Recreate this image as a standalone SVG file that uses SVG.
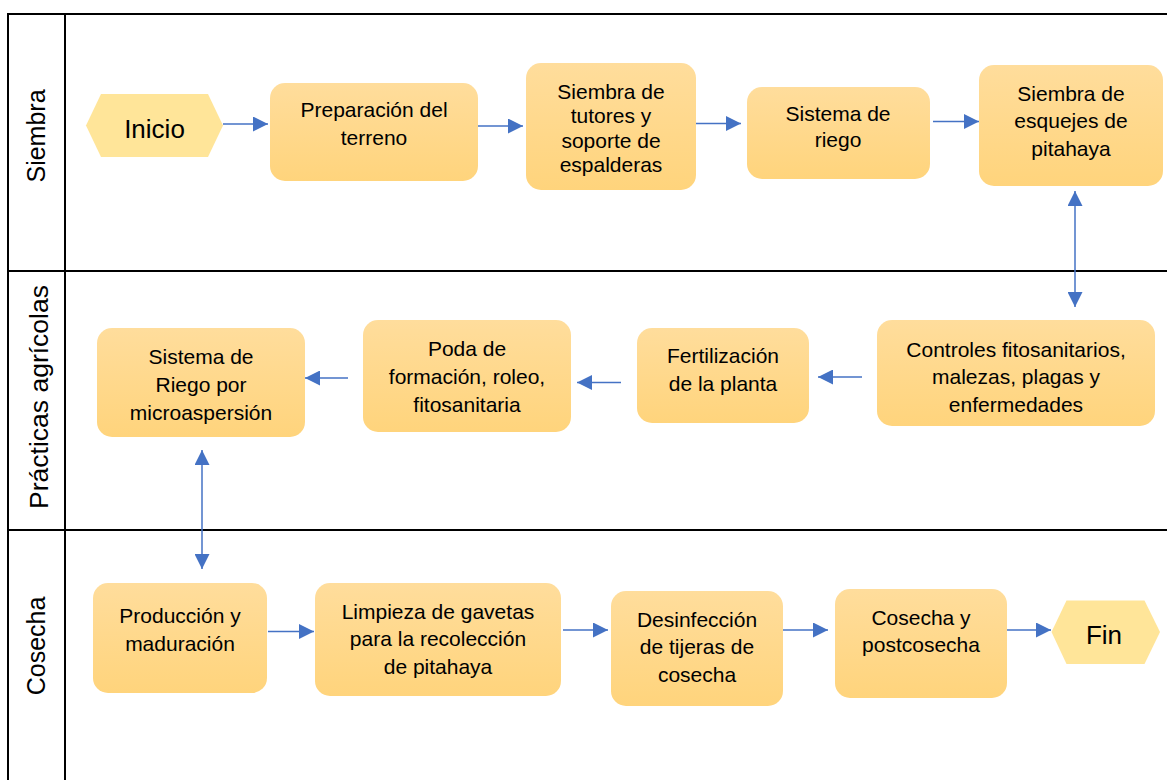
<svg xmlns="http://www.w3.org/2000/svg" width="1167" height="780" viewBox="0 0 1167 780">
<defs>
<linearGradient id="g" x1="0" y1="0" x2="0" y2="1">
<stop offset="0" stop-color="#FFDD9C"/>
<stop offset="1" stop-color="#FFD47C"/>
</linearGradient>
<marker id="ah" markerWidth="15" markerHeight="15" refX="15" refY="7.5" orient="auto-start-reverse" markerUnits="userSpaceOnUse">
<path d="M0,0 L15,7.5 L0,15 z" fill="#4472C4"/>
</marker>
</defs>
<style>
.box{fill:url(#g);stroke:none}
.hex{fill:#FFE599;stroke:none}
.t{font-family:"Liberation Sans",Arial,sans-serif;font-size:21px;fill:#000;text-anchor:middle}
.big{font-family:"Liberation Sans",Arial,sans-serif;font-size:26px;fill:#000;text-anchor:middle}
.lane{font-family:"Liberation Sans",Arial,sans-serif;font-size:25px;fill:#000;text-anchor:middle}
.grid{stroke:#000;stroke-width:2;fill:none}
.c{stroke:#4472C4;stroke-width:1.5;fill:none;marker-end:url(#ah)}
.d{stroke:#4472C4;stroke-width:1.5;fill:none;marker-end:url(#ah);marker-start:url(#ah)}
</style>
<rect width="1167" height="780" fill="#fff"/>
<g id="lanes">
<line class="grid" x1="8" y1="14" x2="1167" y2="14"/>
<line class="grid" x1="8" y1="13" x2="8" y2="780"/>
<line class="grid" x1="65" y1="13" x2="65" y2="780"/>
<line class="grid" x1="8" y1="271" x2="1167" y2="271"/>
<line class="grid" x1="8" y1="530" x2="1167" y2="530"/>
<text class="lane" transform="translate(45,136) rotate(-90)">Siembra</text>
<text class="lane" style="font-size:26.5px" transform="translate(48,397) rotate(-90)">Prácticas agrícolas</text>
<text class="lane" transform="translate(45,646) rotate(-90)">Cosecha</text>
</g>
<g id="connectors">
<line class="c" x1="223" y1="124" x2="268" y2="124"/>
<line class="c" x1="478" y1="126" x2="523" y2="126"/>
<line class="c" x1="696" y1="123.5" x2="741" y2="123.5"/>
<line class="c" x1="933" y1="121.5" x2="979" y2="121.5"/>
<line class="d" x1="1075" y1="191" x2="1075" y2="307"/>
<line class="c" x1="862" y1="377" x2="818" y2="377"/>
<line class="c" x1="621" y1="382.5" x2="577" y2="382.5"/>
<line class="c" x1="348" y1="378" x2="305" y2="378"/>
<line class="d" x1="202" y1="450" x2="202" y2="569"/>
<line class="c" x1="268" y1="631.5" x2="314" y2="631.5"/>
<line class="c" x1="563" y1="630" x2="608" y2="630"/>
<line class="c" x1="783" y1="630" x2="828" y2="630"/>
<line class="c" x1="1007" y1="630" x2="1051" y2="630"/>
</g>
<g id="inicio">
<polygon class="hex" points="86,125.5 101,94 208,94 223,125.5 208,157 101,157"/>
<text class="big" x="154.5" y="137.5">Inicio</text>
</g>
<g id="preparacion">
<rect class="box" x="270" y="83" width="208" height="98" rx="15"/>
<text class="t" x="374" y="117">Preparación del</text>
<text class="t" x="374" y="145">terreno</text>
</g>
<g id="tutores">
<rect class="box" x="526" y="63" width="170" height="127" rx="15"/>
<text class="t" x="611" y="99">Siembra de</text>
<text class="t" x="611" y="123">tutores y</text>
<text class="t" x="611" y="148">soporte de</text>
<text class="t" x="611" y="172">espalderas</text>
</g>
<g id="riego">
<rect class="box" x="747" y="87" width="183" height="92" rx="15"/>
<text class="t" x="838" y="121">Sistema de</text>
<text class="t" x="838" y="147">riego</text>
</g>
<g id="esquejes">
<rect class="box" x="979" y="65" width="184" height="121" rx="15"/>
<text class="t" x="1071" y="101">Siembra de</text>
<text class="t" x="1071" y="128">esquejes de</text>
<text class="t" x="1071" y="156">pitahaya</text>
</g>
<g id="controles">
<rect class="box" x="877" y="320" width="278" height="106" rx="15"/>
<text class="t" x="1016" y="357">Controles fitosanitarios,</text>
<text class="t" x="1016" y="384">malezas, plagas y</text>
<text class="t" x="1016" y="412">enfermedades</text>
</g>
<g id="fertilizacion">
<rect class="box" x="637" y="328" width="172" height="95" rx="15"/>
<text class="t" x="723" y="363">Fertilización</text>
<text class="t" x="723" y="391">de la planta</text>
</g>
<g id="poda">
<rect class="box" x="363" y="320" width="208" height="112" rx="15"/>
<text class="t" x="467" y="356">Poda de</text>
<text class="t" x="467" y="384">formación, roleo,</text>
<text class="t" x="467" y="412">fitosanitaria</text>
</g>
<g id="microaspersion">
<rect class="box" x="97" y="328" width="208" height="109" rx="15"/>
<text class="t" x="201" y="364">Sistema de</text>
<text class="t" x="201" y="392">Riego por</text>
<text class="t" x="201" y="420">microaspersión</text>
</g>
<g id="produccion">
<rect class="box" x="93" y="583" width="174" height="110" rx="15"/>
<text class="t" x="180" y="623">Producción y</text>
<text class="t" x="180" y="651">maduración</text>
</g>
<g id="limpieza">
<rect class="box" x="315" y="583" width="246" height="113" rx="15"/>
<text class="t" x="438" y="619">Limpieza de gavetas</text>
<text class="t" x="438" y="646">para la recolección</text>
<text class="t" x="438" y="674">de pitahaya</text>
</g>
<g id="desinfeccion">
<rect class="box" x="611" y="591" width="172" height="115" rx="15"/>
<text class="t" x="697" y="627">Desinfección</text>
<text class="t" x="697" y="654">de tijeras de</text>
<text class="t" x="697" y="682">cosecha</text>
</g>
<g id="cosecha">
<rect class="box" x="835" y="589" width="172" height="109" rx="15"/>
<text class="t" x="921" y="625">Cosecha y</text>
<text class="t" x="921" y="652">postcosecha</text>
</g>
<g id="fin">
<polygon class="hex" points="1051.5,632 1066.5,600.5 1144.5,600.5 1160,632 1144.5,664 1066.5,664"/>
<text class="big" x="1104" y="644">Fin</text>
</g>
</svg>
